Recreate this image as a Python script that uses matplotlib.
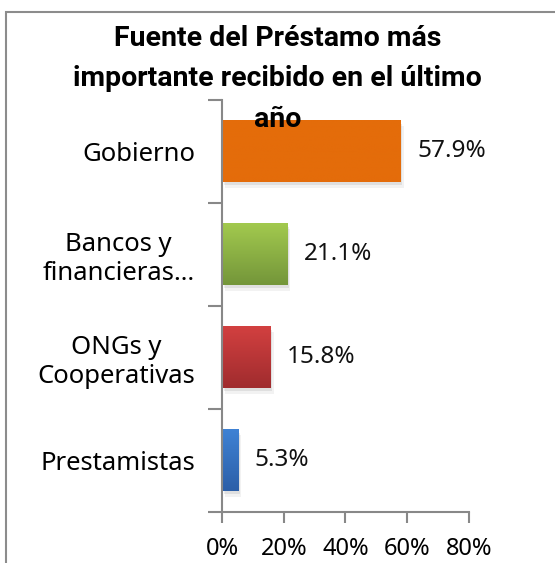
"""Horizontal bar chart: source of the most important loan received last year."""
import matplotlib

matplotlib.use("Agg")
import matplotlib.pyplot as plt
import numpy as np
from matplotlib.colors import LinearSegmentedColormap
from matplotlib.patches import Rectangle

plt.rcParams.update({"font.family": ["Noto Sans", "DejaVu Sans"], "font.size": 17})

CATEGORIES = ["Gobierno", "Bancos y\nfinancieras…", "ONGs y\nCooperativas", "Prestamistas"]
VALUES = [57.9, 21.1, 15.8, 5.3]
LABELS = ["57.9%", "21.1%", "15.8%", "5.3%"]
XTICKS = [0, 20, 40, 60, 80]
# (top colour, bottom colour) per bar
COLORS = [("#e46c0a", "#e46c0a"), ("#a2c94e", "#74963a"),
          ("#d24040", "#a02c2e"), ("#3f82d4", "#2c5fa8")]

fig = plt.figure(figsize=(5.55, 5.63), dpi=100)
ax = fig.add_axes([0.4, 0.0906, 0.445, 0.7318])

ys = np.arange(len(CATEGORIES))[::-1]
h = 0.6
for y, v, (c_top, c_bot) in zip(ys, VALUES, COLORS):
    # soft drop shadow, offset right and down
    for dx, dy, a in ((0.9, 0.05, 0.05), (0.5, 0.03, 0.08)):
        ax.add_patch(Rectangle((dx, y - h / 2 - dy), v, h, color="#000000", alpha=a,
                               lw=0, zorder=1))
    cmap = LinearSegmentedColormap.from_list("g", [c_bot, c_top])
    grad = np.linspace(0, 1, 64).reshape(-1, 1)
    ax.imshow(grad, cmap=cmap, aspect="auto", origin="lower", zorder=2,
              extent=(0, v, y - h / 2, y + h / 2))
for y, v, lab in zip(ys, VALUES, LABELS):
    ax.text(v + 5.3, y, lab, va="center", ha="left", fontsize=17.5, color="#111111")

ax.set_xlim(0, 80)
ax.set_ylim(-0.5, len(CATEGORIES) - 0.5)
ax.set_xticks(XTICKS)
ax.set_xticklabels([f"{t}%" for t in XTICKS], fontsize=17)
ax.set_yticks(ys)
ax.set_yticklabels(CATEGORIES, multialignment="center", fontsize=18.5)
ax.set_yticks(np.arange(-0.5, len(CATEGORIES), 1.0), minor=True)
ax.tick_params(axis="y", which="major", length=0, pad=19.5)
ax.tick_params(axis="y", which="minor", length=10, width=1.5, color="#888888")
ax.tick_params(axis="x", length=8, width=1.5, color="#888888", pad=10)
for s in ("top", "right"):
    ax.spines[s].set_visible(False)
for s in ("left", "bottom"):
    ax.spines[s].set_color("#888888")
    ax.spines[s].set_linewidth(1.5)

fig.text(0.5, 1 - 79 / 563,
         "Fuente del Préstamo más\nimportante recibido en el último\naño",
         ha="center", va="center", fontsize=20.5, fontweight="bold", linespacing=1.66,
         family="Roboto", zorder=10)

# chart area frame (runs off the right and bottom edges)
fig.patches.append(Rectangle((6 / 555, -0.1), 1.2, 1 - 12 / 563 + 0.1,
                             transform=fig.transFigure, fill=False,
                             edgecolor="#8c8c8c", lw=1.5))

fig.savefig("out.png", dpi=100)
